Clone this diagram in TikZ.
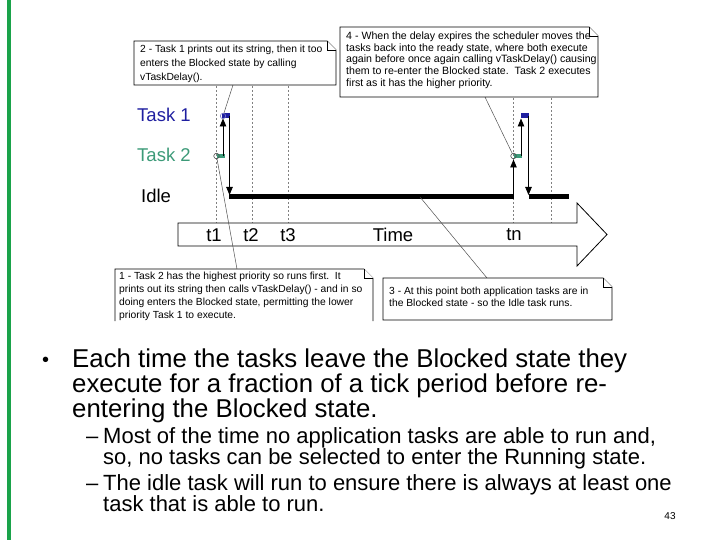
\documentclass[tikz,border=0pt]{standalone}
\usepackage{fontspec}
\setmainfont{Liberation Sans}
\usetikzlibrary{arrows.meta}
\definecolor{slidegreen}{HTML}{1AA34A}
\definecolor{taskblue}{HTML}{1F1FA0}
\definecolor{taskgreen}{HTML}{3C9A78}
\definecolor{connc}{HTML}{505050}
\newcommand{\calloutshape}[4]{%
  \filldraw[calloutbox] (#1,#2) -- (#3-9,#2) -- (#3,#2+9) -- (#3,#4) -- (#1,#4) -- cycle;
  \draw[calloutbox] (#3-9,#2) -- (#3-9,#2+9) -- (#3,#2+9);}
\begin{document}
\begin{tikzpicture}[x=1pt,y=-1pt,
  calloutbox/.style={draw=black, line width=0.7pt, fill=white},
  ctext/.style={anchor=north west, inner sep=0pt, align=left},
  tasklbl/.style={anchor=west, inner sep=0pt, font=\fontsize{18.5}{20}\selectfont},
  axislbl/.style={inner sep=0pt, font=\fontsize{18.5}{20}\selectfont},
  dashv/.style={gray, line width=0.4pt, dash pattern=on 2pt off 2pt},
  connline/.style={connc, line width=0.5pt},
  flow/.style={line width=0.9pt, -{Triangle[length=8pt,width=6.5pt]}},
  plainv/.style={line width=0.9pt},
  idlebar/.style={line width=5.5pt},
  mcirc/.style={circle, draw=black!70, line width=0.6pt, inner sep=0pt, minimum size=5.5pt},
  bigtxt/.style={anchor=base west, inner sep=0pt, font=\fontsize{25.8}{28}\selectfont},
  subtxt/.style={anchor=base west, inner sep=0pt, font=\fontsize{22}{24}\selectfont}]
\useasboundingbox (0,0) rectangle (720,540);
% left green bar
\fill[slidegreen] (7,0) rectangle (11,540);
% dashed time markers
\foreach \xx in {216.5,252.5,288.5,513.5,551.5} {\draw[dashv] (\xx,42) -- (\xx,223);}
% time arrow
\draw[line width=0.8pt, fill=white] (178,223) -- (577,223) -- (577,203) -- (607,234.5) -- (577,266) -- (577,246) -- (178,246) -- cycle;
\node[axislbl] (lt1) at (214,235) {t1};
\node[axislbl] (lt2) at (251,235) {t2};
\node[axislbl] (lt3) at (288,235) {t3};
\node[axislbl] (ltime) at (393,235) {Time};
\node[axislbl] (ltn) at (514,235) {tn};
% task labels
\node[tasklbl, text=taskblue] (lbl1) at (137,115) {Task 1};
\node[tasklbl, text=taskgreen] (lbl2) at (137,155) {Task 2};
\node[tasklbl] (lbli) at (141,196) {Idle};
% idle bars
\draw[idlebar] (229,196.5) -- (513.5,196.5);
\draw[idlebar] (528.5,196.5) -- (569,196.5);
% markers at t1
\fill[taskgreen] (217,154) rectangle (225,158.5);
\fill[taskblue] (222,113.5) rectangle (230,118);
\node[mcirc] (t1c2) at (216.5,156) {};
\node[mcirc, draw=taskblue!60] (t1c1) at (223,116) {};
\coordinate (t1a) at (223,156);
\coordinate (t1b) at (223,118.5);
\coordinate (t1c) at (229.5,116);
\coordinate (t1d) at (229.5,195);
\draw[flow] (t1a) -- (t1b);
\draw[flow] (t1c) -- (t1d);
% markers at tn
\fill[taskgreen] (513.5,154) rectangle (522,158.5);
\fill[taskblue] (520.5,113.5) rectangle (529,118);
\node[mcirc] (tnc2) at (513.5,156) {};
\coordinate (tna) at (513.5,196);
\coordinate (tnb) at (513.5,159.5);
\coordinate (tnc) at (521,156);
\coordinate (tnd) at (521,118.5);
\coordinate (tne) at (528.5,116);
\coordinate (tnf) at (528.5,195);
\draw[flow] (tna) -- (tnb);
\draw[flow] (tnc) -- (tnd);
\draw[flow] (tne) -- (tnf);
% connectors from callouts
\coordinate (c2tail) at (233,85);
\coordinate (c4tail) at (485,97);
\coordinate (c1tail) at (237,269);
\coordinate (c3tail) at (487,278);
\coordinate (idlept) at (420,197);
\draw[connline] (c2tail) -- (t1c1);
\draw[connline] (c4tail) -- (tnc2);
\draw[connline] (c1tail) -- (t1c2);
\draw[connline] (c3tail) -- (idlept);
% callout 2
\calloutshape{134}{41}{336}{85}
\node[ctext, font=\fontsize{10.3}{14}\selectfont] (c2) at (140,44.5)
  {2 - Task 1 prints out its string, then it too\\enters the Blocked state by calling\\vTaskDelay().};
% callout 4
\calloutshape{340}{27}{598}{97}
\node[ctext, font=\fontsize{10.6}{11.8}\selectfont] (c4) at (346,31.5)
  {4 - When the delay expires the scheduler moves the\\tasks back into the ready state, where both execute\\again before once again calling vTaskDelay() causing\\them to re-enter the Blocked state.\ \ Task 2 executes\\first as it has the higher priority.};
% callout 1 (cut off at the bottom)
\filldraw[calloutbox] (115,321) -- (115,269) -- (364,269) -- (373,278) -- (373,321);
\draw[calloutbox] (364,269) -- (364,278) -- (373,278);
\node[ctext, font=\fontsize{10.3}{13}\selectfont] (c1) at (119,271.5)
  {1 - Task 2 has the highest priority so runs first.\ \ It\\prints out its string then calls vTaskDelay() - and in so\\doing enters the Blocked state, permitting the lower\\priority Task 1 to execute.};
% callout 3
\calloutshape{383}{278}{612}{320}
\node[ctext, font=\fontsize{10.3}{12}\selectfont] (c3) at (389,286.5)
  {3 - At this point both application tasks are in\\the Blocked state - so the Idle task runs.};
% slide text
\node[anchor=base west, inner sep=0pt, font=\fontsize{20}{22}\selectfont] (bul) at (42,366) {•};
\node[bigtxt] (b1) at (72,367) {Each time the tasks leave the Blocked state they};
\node[bigtxt] (b2) at (72,392) {execute for a fraction of a tick period before re-};
\node[bigtxt] (b3) at (72,417) {entering the Blocked state.};
\node[subtxt] (d1) at (86,443) {–};
\node[subtxt] (s1) at (103,443) {Most of the time no application tasks are able to run and,};
\node[subtxt] (s2) at (103,464) {so, no tasks can be selected to enter the Running state.};
\node[subtxt] (d2) at (86,490) {–};
\node[subtxt] (s3) at (103,490) {The idle task will run to ensure there is always at least one};
\node[subtxt] (s4) at (103,511) {task that is able to run.};
\node[anchor=base, inner sep=0pt, font=\fontsize{10}{12}\selectfont] (pg) at (670,519) {43};
\end{tikzpicture}
\end{document}
